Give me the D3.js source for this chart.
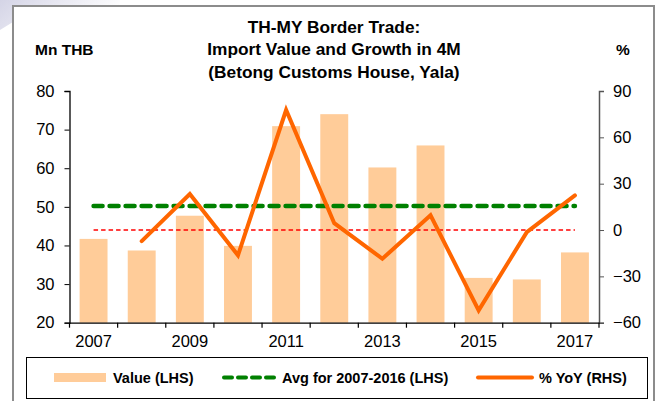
<!DOCTYPE html>
<html>
<head>
<meta charset="utf-8">
<script src="https://cdn.jsdelivr.net/npm/d3@7"></script>
<style>
  html, body { margin: 0; padding: 0; background: #fff; }
  svg { display: block; font-family: "Liberation Sans", Arial, sans-serif; }
</style>
</head>
<body>
<svg id="chart" width="665" height="401"></svg>
<script>
// Import value through Betong Customs House (Jan-Apr), million THB
const years = ["2007","2008","2009","2010","2011","2012","2013","2014","2015","2016","2017"];
const importValue = [41.7, 38.7, 47.7, 39.9, 70.9, 74.0, 60.2, 65.9, 31.6, 31.2, 38.2];
// Year-on-year growth, %
const yoyGrowth = [null, -7.2, 23.3, -16.4, 77.7, 4.4, -18.6, 9.5, -52.0, -1.4, 22.4];
// Average value for 2007-2016, million THB
const avgValue = [50.2, 50.2, 50.2, 50.2, 50.2, 50.2, 50.2, 50.2, 50.2, 50.2, 50.2];
const leftTicks = [20, 30, 40, 50, 60, 70, 80];
const rightTicks = [-60, -30, 0, 30, 60, 90];
const xLabelYears = ["2007","2009","2011","2013","2015","2017"];
const titleLines = ["TH-MY Border Trade:", "Import Value and Growth in 4M", "(Betong Customs House, Yala)"];

const svg = d3.select("#chart");
const plot = { left: 69.5, right: 599, top: 91, bottom: 322.7 };
const tickFont = 16.5;

// faint corner shading
const defs = svg.append("defs");
const g0 = defs.append("linearGradient").attr("id", "corner").attr("x1", "0").attr("y1", "0").attr("x2", "1").attr("y2", "0.3");
g0.append("stop").attr("offset", "0").attr("stop-color", "#d4d4e6");
g0.append("stop").attr("offset", "1").attr("stop-color", "#ffffff");
svg.append("path").attr("d", "M0,0 L120,0 L120,6 L13,6 L13,22 L0,30 Z").attr("fill", "url(#corner)");

// outer frame
svg.append("rect").attr("x", 13).attr("y", 6).attr("width", 641).attr("height", 400)
  .attr("fill", "#fff").attr("stroke", "#8c8c8c").attr("stroke-width", 2);

const x = d3.scaleBand().domain(years).range([plot.left, plot.right]).paddingInner(0.42).paddingOuter(0.21);
const yL = d3.scaleLinear().domain([20, 80]).range([plot.bottom, plot.top]);
const yR = d3.scaleLinear().domain([-60, 90]).range([plot.bottom, plot.top]);
const cx = d => x(d) + x.bandwidth() / 2;

// bars
svg.append("g").selectAll("rect").data(years).join("rect")
  .attr("x", d => x(d)).attr("width", x.bandwidth())
  .attr("y", (d, i) => yL(importValue[i]))
  .attr("height", (d, i) => yL(20) - yL(importValue[i]))
  .attr("fill", "#ffcc99");

// zero growth reference line (RHS)
svg.append("path")
  .datum(years)
  .attr("d", d3.line().x(d => cx(d)).y(() => yR(0)))
  .attr("fill", "none").attr("stroke", "#ff0000").attr("stroke-width", 1.6)
  .attr("stroke-dasharray", "4.5,3");

// average line
svg.append("path")
  .datum(years.map((d, i) => [d, avgValue[i]]))
  .attr("d", d3.line().x(d => cx(d[0])).y(d => yL(d[1])))
  .attr("fill", "none").attr("stroke", "#008000").attr("stroke-width", 4.5)
  .attr("stroke-dasharray", "9,7").attr("stroke-linecap", "round");

// growth line
svg.append("path")
  .datum(years.map((d, i) => [d, yoyGrowth[i]]).filter(d => d[1] !== null))
  .attr("d", d3.line().x(d => cx(d[0])).y(d => yR(d[1])))
  .attr("fill", "none").attr("stroke", "#ff6600").attr("stroke-width", 4)
  .attr("stroke-linejoin", "miter").attr("stroke-linecap", "round");

// left axis
const axL = svg.append("g").attr("transform", `translate(${plot.left},0)`)
  .call(d3.axisLeft(yL).tickValues(leftTicks).tickSize(5).tickPadding(10));
axL.select(".domain").attr("stroke", "#000").attr("stroke-width", 1.3);
axL.selectAll("text").attr("font-size", tickFont).attr("fill", "#000").attr("font-family", "Liberation Sans, Arial, sans-serif");

// right axis
const axR = svg.append("g").attr("transform", `translate(${plot.right},0)`)
  .call(d3.axisRight(yR).tickValues(rightTicks).tickSize(5).tickPadding(9));
axR.select(".domain").attr("stroke", "#555").attr("stroke-width", 1.5);
axR.selectAll("line").attr("stroke", "#555");
axR.selectAll("text").attr("font-size", tickFont).attr("fill", "#000").attr("font-family", "Liberation Sans, Arial, sans-serif");

// bottom axis: labels at every other year, ticks on category boundaries
const axB = svg.append("g").attr("transform", `translate(0,${plot.bottom})`)
  .call(d3.axisBottom(x).tickSize(0).tickPadding(13).tickFormat(d => xLabelYears.includes(d) ? d : ""));
axB.select(".domain").attr("stroke", "#000").attr("stroke-width", 1.3);
axB.selectAll("text").attr("font-size", tickFont).attr("fill", "#000").attr("font-family", "Liberation Sans, Arial, sans-serif");
const boundaries = years.map(d => x(d) - x.step() * x.paddingInner() / 2).concat([plot.right]);
axB.selectAll(".bound").data(boundaries).join("line").attr("class", "bound")
  .attr("x1", d => d).attr("x2", d => d).attr("y1", 0).attr("y2", 5)
  .attr("stroke", "#000").attr("stroke-width", 1.2);

// title and axis units
svg.append("g").selectAll("text").data(titleLines).join("text")
  .attr("x", 334).attr("y", (d, i) => 32.5 + i * 22.5)
  .attr("text-anchor", "middle").attr("font-size", 17.3).attr("font-weight", "bold").text(d => d);
svg.append("text").attr("x", 35).attr("y", 55).attr("font-size", 15.5).attr("font-weight", "bold").text("Mn THB");
svg.append("text").attr("x", 616).attr("y", 55).attr("font-size", 15.5).attr("font-weight", "bold").text("%");

// legend
const lg = svg.append("g");
lg.append("rect").attr("x", 26.5).attr("y", 357.5).attr("width", 621).attr("height", 41)
  .attr("fill", "#fff").attr("stroke", "#000").attr("stroke-width", 1);
const ly = 377.5;
lg.append("rect").attr("x", 54).attr("y", ly - 4.5).attr("width", 52).attr("height", 9).attr("fill", "#ffcc99");
lg.append("text").attr("x", 113).attr("y", ly + 5.5).attr("font-size", 14.5).attr("font-weight", "bold").text("Value (LHS)");
lg.append("line").attr("x1", 224).attr("x2", 276).attr("y1", ly).attr("y2", ly)
  .attr("stroke", "#008000").attr("stroke-width", 4).attr("stroke-dasharray", "8,6").attr("stroke-linecap", "round");
lg.append("text").attr("x", 282).attr("y", ly + 5.5).attr("font-size", 14.5).attr("font-weight", "bold").text("Avg for 2007-2016 (LHS)");
lg.append("line").attr("x1", 478).attr("x2", 532).attr("y1", ly).attr("y2", ly)
  .attr("stroke", "#ff6600").attr("stroke-width", 4).attr("stroke-linecap", "round");
lg.append("text").attr("x", 539).attr("y", ly + 5.5).attr("font-size", 14.5).attr("font-weight", "bold").text("% YoY (RHS)");
</script>
</body>
</html>
